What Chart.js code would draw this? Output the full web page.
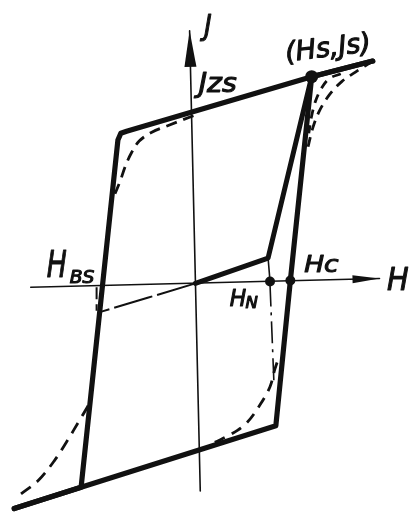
<!DOCTYPE html>
<html>
<head>
<meta charset="utf-8">
<script src="https://cdn.jsdelivr.net/npm/chart.js@4.4.1/dist/chart.umd.min.js"></script>
<style>
  html, body { margin: 0; padding: 0; background: #ffffff; }
  #wrap { width: 417px; height: 519px; }
</style>
</head>
<body>
<div id="wrap"><canvas id="loop" width="417" height="519"></canvas></div>
<script>
// Idealised hysteresis loop (solid) with the real loop knees (dashed).
// H = field strength, J = polarisation, arbitrary units, origin at the axis crossing.

// Upper (descending) branch of the idealised loop
const H_upper = [183, 120, -71, -77, -80, -118, -187];
const J_upper = [228, 212, 156, 154, 147, -209, -231];
// Lower (ascending) branch of the idealised loop
const H_lower = [-187, -118, 83, 98, 120, 183];
const J_lower = [-231, -209, -146, 3, 212, 228];

// Initial magnetisation curve: origin -> knee at H_N -> saturation point
const H_initial = [0, 75, 120];
const J_initial = [0, 26, 212];
// Drop line from the knee to H_N on the H axis
const H_knee = [75, 77];
const J_knee = [26, 2];
// Dash-dot continuation below H_N
const H_nDown = [77, 81];
const J_nDown = [-1, -101];
// Mirrored initial curve on the negative side
const H_negInit = [0, -97];
const J_negInit = [0, -29];
const H_negStub = [-102, -102];
const J_negStub = [-4, -28];

// Rounded knees of the real loop
const H_kneeTopLeft = [-2, -28, -45, -58, -66, -72, -78, -83];
const J_kneeTopLeft = [172, 162, 155, 146, 134, 121, 104, 92];
const H_kneeTopRightOuter = [183, 167, 151, 138, 128, 121, 116];
const J_kneeTopRightOuter = [228, 218, 207, 193, 177, 159, 139];
const H_kneeTopRightInner = [150, 138, 130, 124, 120, 117];
const J_kneeTopRightInner = [215, 210, 200, 187, 172, 154];
const H_kneeBottomRight = [20, 38, 53, 67, 77, 82, 86];
const J_kneeBottomRight = [-163, -154, -143, -124, -106, -88, -76];
const H_kneeBottomLeft = [-180, -162, -145, -132, -120, -110, -107];
const J_kneeBottomLeft = [-216, -202, -181, -161, -141, -124, -116];

// Axes (the drawing sits slightly rotated)
const H_axisH = [-170, 190];
const J_axisH = [-4, 5];
const H_axisJ = [5, -6];
const J_axisJ = [-213, 259];

// Marked points: (Hs, Js), H_N, Hc
const markNames = ['Hs,Js', 'HN', 'Hc'];
const H_marks = [120, 77, 98];
const J_marks = [212, 2, 3];
const markRadius = [6.5, 5, 5];

const pts = (hs, js) => hs.map((h, i) => ({ x: h, y: js[i] }));
const INK = '#111111';

function solid(data, width, order) {
  return { data, showLine: true, borderColor: INK, borderWidth: width, pointRadius: 0,
           borderJoinStyle: 'round', borderCapStyle: 'round', tension: 0, order, fill: false };
}
function dashed(data, width, dash, order) {
  return { data, showLine: true, borderColor: INK, borderWidth: width, pointRadius: 0,
           borderDash: dash, borderCapStyle: 'butt', tension: 0.35, order, fill: false };
}

const axisH = solid(pts(H_axisH, J_axisH), 1.6, 10);
axisH.arrowHead = { length: 27, half: 4 };
const axisJ = solid(pts(H_axisJ, J_axisJ), 1.6, 10);
axisJ.arrowHead = { length: 36, half: 6 };

const datasets = [
  axisH,
  axisJ,
  dashed(pts(H_negInit, J_negInit), 2, [40, 5], 6),
  dashed(pts(H_negStub, J_negStub), 2, [12, 5], 6),
  dashed(pts(H_nDown, J_nDown), 1.6, [22, 6, 3, 6], 6),
  dashed(pts(H_kneeTopLeft, J_kneeTopLeft), 2.8, [11, 7], 5),
  dashed(pts(H_kneeTopRightOuter, J_kneeTopRightOuter), 2.8, [10, 7], 5),
  dashed(pts(H_kneeTopRightInner, J_kneeTopRightInner), 2.8, [9, 7], 5),
  dashed(pts(H_kneeBottomRight, J_kneeBottomRight), 2.8, [11, 8], 5),
  dashed(pts(H_kneeBottomLeft, J_kneeBottomLeft), 2.8, [12, 8], 5),
  solid(pts(H_knee, J_knee), 1.6, 4),
  solid(pts(H_upper, J_upper), 5.2, 2),
  solid(pts(H_lower, J_lower), 5.2, 2),
  solid(pts(H_initial, J_initial), 5, 2),
  { data: pts(H_marks, J_marks), showLine: false, pointRadius: markRadius,
    pointBackgroundColor: INK, pointBorderWidth: 0, order: 0 }
];

// Hand-lettered labels, placed in data coordinates
const labels = [
  { text: 'J', x: 13, y: 262, size: 28, sx: 0.9 },
  { text: '(Hs,Js)', x: 137, y: 240, size: 27, sx: 1.0, rot: -7 },
  { text: 'Jzs', x: 23, y: 204, size: 27, sx: 1.05 },
  { text: 'H', x: -143, y: 16, size: 37, sx: 0.72 },
  { text: 'BS', x: -117, y: 5, size: 17, sx: 1.1 },
  { text: 'Hc', x: 130, y: 18, size: 23, sx: 1.15 },
  { text: 'H', x: 44, y: -17, size: 23, sx: 0.95 },
  { text: 'N', x: 58, y: -21, size: 15, sx: 1.1 },
  { text: 'H', x: 209, y: 2, size: 32, sx: 0.9 }
];

const sketchPlugin = {
  id: 'sketch',
  afterDatasetsDraw(chart) {
    const ctx = chart.ctx;
    const xs = chart.scales.x, ys = chart.scales.y;
    ctx.save();
    // arrowheads at the end of the axes
    chart.data.datasets.forEach((ds, i) => {
      if (!ds.arrowHead) return;
      const el = chart.getDatasetMeta(i).data;
      const a = el[el.length - 2], b = el[el.length - 1];
      const dx = b.x - a.x, dy = b.y - a.y, len = Math.hypot(dx, dy);
      const ux = dx / len, uy = dy / len;
      const L = ds.arrowHead.length, W = ds.arrowHead.half;
      const bx = b.x - ux * L, by = b.y - uy * L;
      ctx.fillStyle = INK;
      ctx.beginPath();
      ctx.moveTo(b.x, b.y);
      ctx.lineTo(bx - uy * W, by + ux * W);
      ctx.lineTo(bx + uy * W, by - ux * W);
      ctx.closePath();
      ctx.fill();
    });
    // text labels: regular oblique, slightly thickened with a thin stroke
    ctx.fillStyle = INK;
    ctx.strokeStyle = INK;
    ctx.lineWidth = 1.1;
    ctx.lineJoin = 'round';
    ctx.textAlign = 'center';
    ctx.textBaseline = 'middle';
    labels.forEach(l => {
      const px = xs.getPixelForValue(l.x), py = ys.getPixelForValue(l.y);
      ctx.save();
      ctx.translate(px, py);
      if (l.rot) ctx.rotate(l.rot * Math.PI / 180);
      ctx.scale(l.sx || 1, 1);
      ctx.font = 'italic ' + l.size + 'px "DejaVu Sans", sans-serif';
      ctx.fillText(l.text, 0, 0);
      ctx.strokeText(l.text, 0, 0);
      ctx.restore();
    });
    ctx.restore();
  }
};

new Chart(document.getElementById('loop'), {
  type: 'scatter',
  data: { datasets },
  options: {
    responsive: false,
    devicePixelRatio: 1,
    animation: false,
    events: [],
    layout: { padding: 0 },
    scales: {
      x: { type: 'linear', min: -195, max: 222, display: false },
      y: { type: 'linear', min: -235, max: 284, display: false }
    },
    plugins: { legend: { display: false }, tooltip: { enabled: false } }
  },
  plugins: [sketchPlugin]
});
</script>
</body>
</html>
